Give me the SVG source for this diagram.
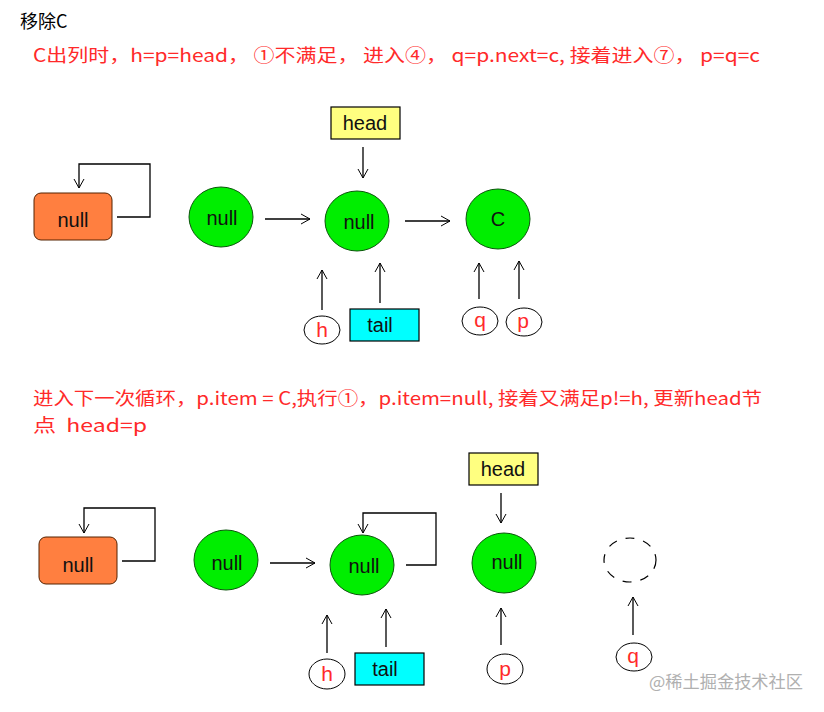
<svg xmlns="http://www.w3.org/2000/svg" width="824" height="712" viewBox="0 0 824 712">
<defs>
<marker id="arr" markerUnits="userSpaceOnUse" markerWidth="12" markerHeight="12" refX="9" refY="5" orient="auto" overflow="visible">
<path d="M0,0 L9,5 L0,10" fill="none" stroke="#000" stroke-width="1"/>
</marker>
</defs>
<style>
.t{font-family:"Noto Sans CJK SC","Noto Sans",sans-serif;}
.red{fill:#ff2a2a;font-size:18px;}
.lbl{font-family:"Liberation Sans","DejaVu Sans",sans-serif;font-size:20px;fill:#111;}
.g{fill:#00ee00;stroke:#0d550d;stroke-width:1;}
.o{fill:#ff7f40;stroke:#552200;stroke-width:1;}
.y{fill:#ffff80;stroke:#000;stroke-width:1.2;}
.c{fill:#00ffff;stroke:#000;stroke-width:1.2;}
.v{fill:#fff;stroke:#000;stroke-width:1;}
.vt{font-family:"Liberation Sans","DejaVu Sans",sans-serif;font-size:21px;fill:#ff2a2a;}
.ln{fill:none;stroke:#000;stroke-width:1.3;}
.a{fill:none;stroke:#000;stroke-width:1.3;marker-end:url(#arr);}
</style>
<rect width="824" height="712" fill="#fff"/>
<text class="t" x="20" y="28" font-size="18" fill="#000">移除C</text>
<text class="t red" x="33" y="62" textLength="727" lengthAdjust="spacingAndGlyphs">C出列时，h=p=head， ①不满足， 进入④， q=p.next=c, 接着进入⑦， p=q=c</text>
<text class="t red" x="33" y="405" textLength="729" lengthAdjust="spacingAndGlyphs">进入下一次循环，p.item = C,执行①，p.item=null, 接着又满足p!=h, 更新head节</text>
<text class="t red" x="33" y="432" textLength="114" lengthAdjust="spacingAndGlyphs" xml:space="preserve">点  head=p</text>

<g id="connectors">
<path class="a" d="M117,217 H150 V164 H79 V188"/>
<path class="a" d="M265,219 H310"/>
<path class="a" d="M363,147 V178"/>
<path class="a" d="M405,221 H450"/>
<path class="a" d="M322,310 V270"/>
<path class="a" d="M380,303 V263"/>
<path class="a" d="M479,299 V263"/>
<path class="a" d="M519,299 V261"/>
<path class="a" d="M122,561 H155 V508 H84 V533"/>
<path class="a" d="M270,563 H315"/>
<path class="a" d="M406,565 H436 V513 H363 V533"/>
<path class="a" d="M327,653 V615"/>
<path class="a" d="M386,647 V609"/>
<path class="a" d="M501,493 V523"/>
<path class="a" d="M501,645 V608"/>
<path class="a" d="M633,635 V597"/>
</g>

<g id="top-dummy"><rect class="o" x="34" y="193" width="78" height="47" rx="7"/><text class="lbl" x="73" y="227" text-anchor="middle">null</text></g>
<g id="top-n1"><ellipse class="g" cx="221" cy="217" rx="32" ry="30"/><text class="lbl" x="222" y="225" text-anchor="middle">null</text></g>
<g id="top-n2"><ellipse class="g" cx="357" cy="221" rx="32" ry="30"/><text class="lbl" x="359" y="229" text-anchor="middle">null</text></g>
<g id="top-c"><ellipse class="g" cx="498" cy="219" rx="32" ry="30"/><text class="lbl" x="498" y="226" text-anchor="middle">C</text></g>
<g id="top-head"><rect class="y" x="331" y="107" width="69" height="32"/><text class="lbl" x="365" y="130" text-anchor="middle">head</text></g>
<g id="top-h"><ellipse class="v" cx="322" cy="330" rx="18" ry="14"/><text class="vt" x="322" y="337" text-anchor="middle">h</text></g>
<g id="top-tail"><rect class="c" x="350" y="309" width="69" height="32"/><text class="lbl" x="380" y="332" text-anchor="middle">tail</text></g>
<g id="top-q"><ellipse class="v" cx="480" cy="321" rx="18" ry="14"/><text class="vt" x="480" y="327" text-anchor="middle">q</text></g>
<g id="top-p"><ellipse class="v" cx="524" cy="322" rx="18" ry="14"/><text class="vt" x="523" y="328" text-anchor="middle">p</text></g>

<g id="bot-dummy"><rect class="o" x="39" y="537" width="78" height="47" rx="7"/><text class="lbl" x="78" y="572" text-anchor="middle">null</text></g>
<g id="bot-n1"><ellipse class="g" cx="226" cy="560" rx="32" ry="30"/><text class="lbl" x="227" y="570" text-anchor="middle">null</text></g>
<g id="bot-n2"><ellipse class="g" cx="362" cy="565" rx="32" ry="30"/><text class="lbl" x="364" y="573" text-anchor="middle">null</text></g>
<g id="bot-n3"><ellipse class="g" cx="504" cy="563" rx="32" ry="30"/><text class="lbl" x="507" y="569" text-anchor="middle">null</text></g>
<g id="bot-gone"><ellipse cx="630" cy="560" rx="26" ry="22" fill="none" stroke="#000" stroke-width="1.2" stroke-dasharray="9,9"/></g>
<g id="bot-head"><rect class="y" x="469" y="453" width="69" height="32"/><text class="lbl" x="503" y="476" text-anchor="middle">head</text></g>
<g id="bot-h"><ellipse class="v" cx="327" cy="674" rx="18" ry="15"/><text class="vt" x="327" y="681" text-anchor="middle">h</text></g>
<g id="bot-tail"><rect class="c" x="355" y="653" width="69" height="32"/><text class="lbl" x="385" y="676" text-anchor="middle">tail</text></g>
<g id="bot-p"><ellipse class="v" cx="505" cy="669" rx="18" ry="15"/><text class="vt" x="505" y="676" text-anchor="middle">p</text></g>
<g id="bot-q"><ellipse class="v" cx="634" cy="657" rx="18" ry="14"/><text class="vt" x="633" y="663" text-anchor="middle">q</text></g>

<text class="t" x="649" y="688" font-size="17" fill="#b0b0b0" textLength="154" lengthAdjust="spacingAndGlyphs">@稀土掘金技术社区</text>
</svg>
